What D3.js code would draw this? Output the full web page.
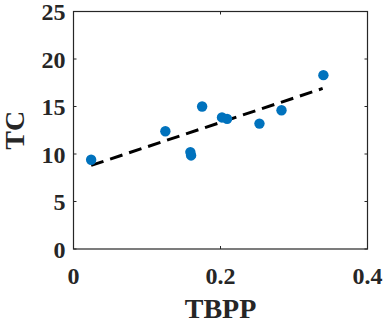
<!DOCTYPE html>
<html>
<head>
<meta charset="utf-8">
<title>TC vs TBPP</title>
<script src="https://d3js.org/d3.v7.min.js"></script>
<style>
  body { margin: 0; background: #fff; }
  text { font-family: "Times New Roman", "Liberation Serif", Times, serif; font-weight: 700; fill: #262626; }
</style>
</head>
<body>
<script>
  var width = 386, height = 323;
  var margin = {left: 73.5, right: 18.5, top: 11.5, bottom: 74};

  // measured points
  var tbpp = [0.024, 0.125, 0.159, 0.160, 0.175, 0.202, 0.209, 0.253, 0.283, 0.340];
  var tc   = [9.4, 12.4, 10.2, 9.85, 15.0, 13.85, 13.7, 13.2, 14.6, 18.3];

  // fitted trend line ends
  var fitX = [0.024, 0.339];
  var fitY = [8.8, 16.9];

  var xTicks = [0, 0.2, 0.4];
  var yTicks = [0, 5, 10, 15, 20, 25];

  var svg = d3.select("body").append("svg")
      .attr("width", width).attr("height", height);

  var x = d3.scaleLinear().domain([0, 0.4]).range([margin.left, width - margin.right]);
  var y = d3.scaleLinear().domain([0, 25]).range([height - margin.bottom, margin.top]);

  var axisCol = "#262626";

  // box
  svg.append("rect")
      .attr("x", x(0)).attr("y", y(25))
      .attr("width", x(0.4) - x(0)).attr("height", y(0) - y(25))
      .attr("fill", "none").attr("stroke", axisCol).attr("stroke-width", 1.2);

  // inward ticks, all four sides
  var tl = 3;
  svg.append("g").selectAll("line").data(xTicks).enter().append("line")
      .attr("x1", d => x(d)).attr("x2", d => x(d))
      .attr("y1", y(0)).attr("y2", y(0) - tl)
      .attr("stroke", axisCol);
  svg.append("g").selectAll("line").data(xTicks).enter().append("line")
      .attr("x1", d => x(d)).attr("x2", d => x(d))
      .attr("y1", y(25)).attr("y2", y(25) + tl)
      .attr("stroke", axisCol);
  svg.append("g").selectAll("line").data(yTicks).enter().append("line")
      .attr("x1", x(0)).attr("x2", x(0) + tl)
      .attr("y1", d => y(d)).attr("y2", d => y(d))
      .attr("stroke", axisCol);
  svg.append("g").selectAll("line").data(yTicks).enter().append("line")
      .attr("x1", x(0.4)).attr("x2", x(0.4) - tl)
      .attr("y1", d => y(d)).attr("y2", d => y(d))
      .attr("stroke", axisCol);

  // tick labels
  svg.append("g").selectAll("text").data(xTicks).enter().append("text")
      .attr("x", d => x(d)).attr("y", y(0) + 35)
      .attr("text-anchor", "middle").attr("font-size", 24)
      .text(d => d === 0 ? "0" : d3.format(".1f")(d));
  svg.append("g").selectAll("text").data(yTicks).enter().append("text")
      .attr("x", x(0) - 8).attr("y", d => y(d) + 8.5)
      .attr("text-anchor", "end").attr("font-size", 24)
      .text(d => d);

  // axis titles
  svg.append("text")
      .attr("x", (x(0) + x(0.4)) / 2).attr("y", 318)
      .attr("text-anchor", "middle").attr("font-size", 28)
      .text("TBPP");
  svg.append("text")
      .attr("transform", "translate(" + 24 + "," + ((y(0) + y(25)) / 2) + ") rotate(-90)")
      .attr("text-anchor", "middle").attr("font-size", 28)
      .text("TC");

  // fit line
  var fit = fitX.map((d, i) => [d, fitY[i]]);
  svg.append("path")
      .datum(fit)
      .attr("d", d3.line().x(d => x(d[0])).y(d => y(d[1])))
      .attr("fill", "none").attr("stroke", "#000")
      .attr("stroke-width", 3).attr("stroke-dasharray", "13,7");

  // points
  svg.append("g").selectAll("circle").data(tbpp).enter().append("circle")
      .attr("cx", d => x(d))
      .attr("cy", (d, i) => y(tc[i]))
      .attr("r", 5.2)
      .attr("fill", "#0072BD");
</script>
</body>
</html>
